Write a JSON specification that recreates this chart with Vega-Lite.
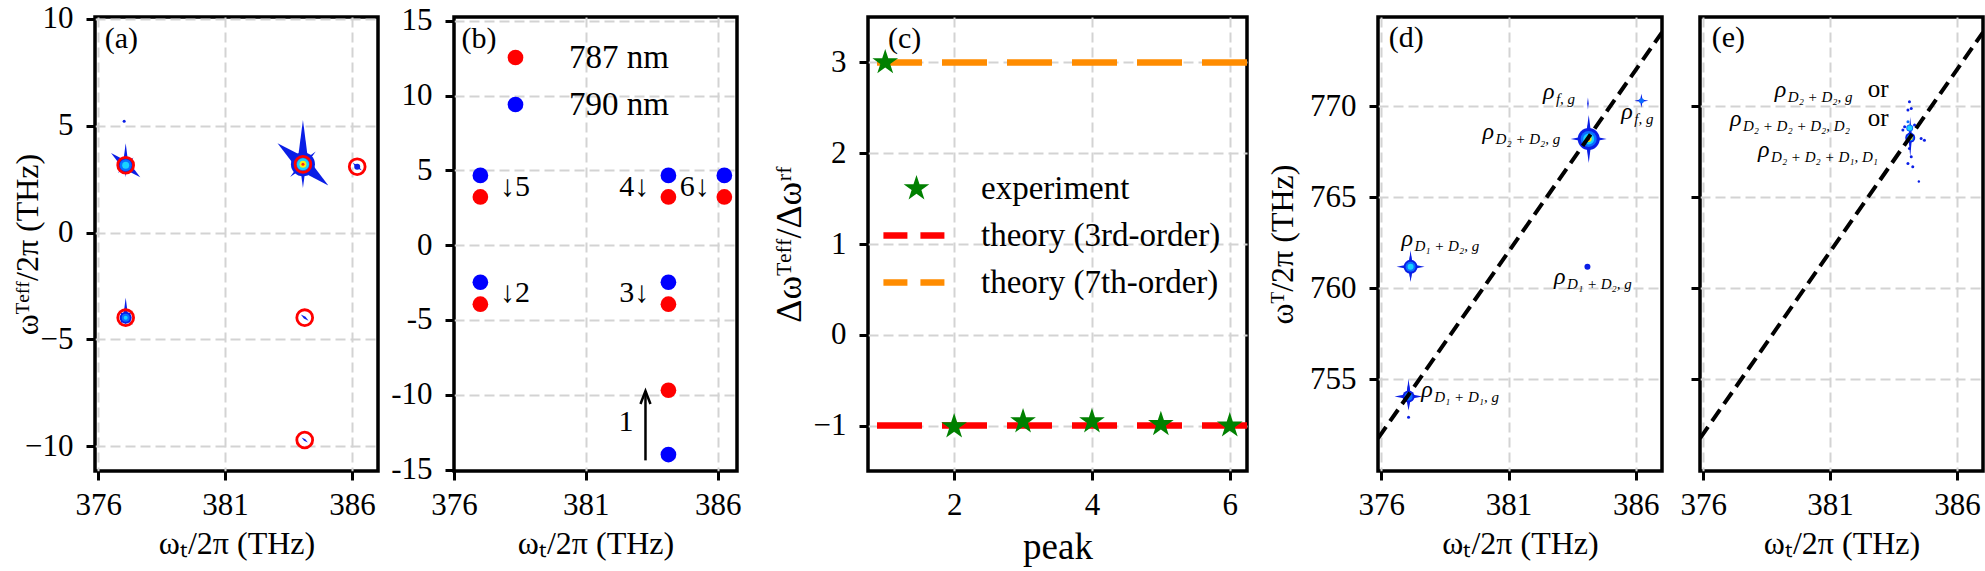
{
  "$schema": "https://vega.github.io/schema/vega-lite/v6.json",
  "background": "white",
  "padding": {"left": 9, "top": 0, "right": 0, "bottom": 0},
  "spacing": 0,
  "bounds": "flush",
  "resolve": {
    "scale": {"x": "independent", "y": "independent", "color": "independent", "shape": "independent", "size": "independent"},
    "legend": {"color": "independent", "shape": "independent", "size": "independent"}
  },
  "datasets": {
    "spotsA": [
      {"wt": 377.08, "weff": 3.15, "level": 1, "form": "slash", "spread": 19},
      {"wt": 377.08, "weff": 3.38, "level": 1, "form": "streak", "spread": 17},
      {"wt": 377.08, "weff": 3.15, "level": 1, "form": "cross", "spread": 11},
      {"wt": 377.08, "weff": 3.15, "level": 1, "form": "blob", "spread": 8},
      {"wt": 377.08, "weff": 3.15, "level": 2, "form": "blob", "spread": 6},
      {"wt": 377.08, "weff": 3.15, "level": 3, "form": "blob", "spread": 3.5},
      {"wt": 377.02, "weff": 5.2, "level": 1, "form": "blob", "spread": 1.5},
      {"wt": 384.07, "weff": 3.19, "level": 1, "form": "slash", "spread": 33},
      {"wt": 384.07, "weff": 3.67, "level": 1, "form": "streak", "spread": 34},
      {"wt": 384.07, "weff": 3.19, "level": 1, "form": "cross", "spread": 18},
      {"wt": 384.07, "weff": 3.19, "level": 1, "form": "blob", "spread": 12},
      {"wt": 384.07, "weff": 3.19, "level": 2, "form": "blob", "spread": 8},
      {"wt": 384.07, "weff": 3.19, "level": 3, "form": "blob", "spread": 6},
      {"wt": 384.07, "weff": 3.19, "level": 4, "form": "blob", "spread": 3.5},
      {"wt": 384.07, "weff": 3.19, "level": 5, "form": "blob", "spread": 1.5},
      {"wt": 386.21, "weff": 3.08, "level": 1, "form": "slash", "spread": 6},
      {"wt": 386.21, "weff": 3.08, "level": 1, "form": "blob", "spread": 3},
      {"wt": 377.08, "weff": -3.7, "level": 1, "form": "streak", "spread": 14},
      {"wt": 377.08, "weff": -3.98, "level": 1, "form": "cross", "spread": 10},
      {"wt": 377.08, "weff": -3.98, "level": 1, "form": "blob", "spread": 6},
      {"wt": 377.08, "weff": -3.98, "level": 2, "form": "blob", "spread": 4},
      {"wt": 377.08, "weff": -3.98, "level": 3, "form": "blob", "spread": 2},
      {"wt": 384.14, "weff": -3.98, "level": 1, "form": "slash", "spread": 5},
      {"wt": 384.14, "weff": -9.7, "level": 1, "form": "slash", "spread": 4}
    ],
    "circlesA": [
      {"wt": 377.08, "weff": 3.15},
      {"wt": 384.07, "weff": 3.19},
      {"wt": 386.21, "weff": 3.08},
      {"wt": 377.08, "weff": -3.98},
      {"wt": 384.14, "weff": -3.98},
      {"wt": 384.14, "weff": -9.7}
    ],
    "dotsB": [
      {"wt": 377.0, "weff": 3.22, "wavelength": "787 nm"},
      {"wt": 377.0, "weff": -3.95, "wavelength": "787 nm"},
      {"wt": 384.13, "weff": 3.22, "wavelength": "787 nm"},
      {"wt": 384.13, "weff": -3.95, "wavelength": "787 nm"},
      {"wt": 384.13, "weff": -9.7, "wavelength": "787 nm"},
      {"wt": 386.25, "weff": 3.22, "wavelength": "787 nm"},
      {"wt": 377.0, "weff": 4.66, "wavelength": "790 nm"},
      {"wt": 377.0, "weff": -2.48, "wavelength": "790 nm"},
      {"wt": 384.13, "weff": 4.66, "wavelength": "790 nm"},
      {"wt": 384.13, "weff": -2.48, "wavelength": "790 nm"},
      {"wt": 384.13, "weff": -14.0, "wavelength": "790 nm"},
      {"wt": 386.25, "weff": 4.66, "wavelength": "790 nm"}
    ],
    "notesB": [
      {"wt": 378.31, "weff": 3.9, "note": "↓5"},
      {"wt": 378.31, "weff": -3.23, "note": "↓2"},
      {"wt": 382.83, "weff": 3.9, "note": "4↓"},
      {"wt": 385.13, "weff": 3.9, "note": "6↓"},
      {"wt": 382.83, "weff": -3.23, "note": "3↓"},
      {"wt": 382.52, "weff": -11.83, "note": "1"}
    ],
    "arrowB": [
      {"wt": 383.26, "start": -14.39, "tip": -9.75}
    ],
    "theoryC": [
      {"series": "theory (3rd-order)", "ratio": -1},
      {"series": "theory (7th-order)", "ratio": 3}
    ],
    "ratioC": [
      {"peak": 1, "ratio": 3.0, "series": "experiment"},
      {"peak": 2, "ratio": -1.01, "series": "experiment"},
      {"peak": 3, "ratio": -0.955, "series": "experiment"},
      {"peak": 4, "ratio": -0.955, "series": "experiment"},
      {"peak": 5, "ratio": -0.985, "series": "experiment"},
      {"peak": 6, "ratio": -1.0, "series": "experiment"}
    ],
    "spotsD": [
      {"wt": 377.07, "wT": 754.05, "level": 1, "form": "plus", "spread": 14},
      {"wt": 377.07, "wT": 754.2, "level": 1, "form": "streak", "spread": 15},
      {"wt": 377.07, "wT": 754.05, "level": 1, "form": "blob", "spread": 6},
      {"wt": 377.07, "wT": 754.05, "level": 2, "form": "blob", "spread": 4},
      {"wt": 377.07, "wT": 752.9, "level": 1, "form": "blob", "spread": 1.5},
      {"wt": 377.15, "wT": 761.17, "level": 1, "form": "plus", "spread": 14},
      {"wt": 377.15, "wT": 761.2, "level": 1, "form": "streak", "spread": 16},
      {"wt": 377.15, "wT": 761.17, "level": 1, "form": "blob", "spread": 7},
      {"wt": 377.15, "wT": 761.17, "level": 2, "form": "blob", "spread": 5},
      {"wt": 377.15, "wT": 761.17, "level": 3, "form": "blob", "spread": 3},
      {"wt": 384.15, "wT": 768.2, "level": 1, "form": "plus", "spread": 18},
      {"wt": 384.15, "wT": 768.2, "level": 1, "form": "streak", "spread": 24},
      {"wt": 384.15, "wT": 768.2, "level": 1, "form": "blob", "spread": 11},
      {"wt": 384.15, "wT": 768.2, "level": 2, "form": "blob", "spread": 8},
      {"wt": 384.15, "wT": 768.2, "level": 3, "form": "blob", "spread": 5.5},
      {"wt": 384.15, "wT": 768.2, "level": 4, "form": "blob", "spread": 3},
      {"wt": 384.15, "wT": 768.2, "level": 5, "form": "blob", "spread": 1.5},
      {"wt": 384.12, "wT": 770.15, "level": 1, "form": "streak", "spread": 6},
      {"wt": 386.22, "wT": 770.3, "level": 1, "form": "plus", "spread": 7},
      {"wt": 386.22, "wT": 770.3, "level": 2, "form": "blob", "spread": 2.5},
      {"wt": 384.1, "wT": 761.17, "level": 1, "form": "blob", "spread": 3}
    ],
    "labelsD": [
      {"wt": 382.35, "wT": 770.41, "sub": "f, g"},
      {"wt": 379.98, "wT": 768.2, "sub": "D₂ + D₂, g"},
      {"wt": 376.79, "wT": 762.3, "sub": "D₁ + D₂, g"},
      {"wt": 382.79, "wT": 760.2, "sub": "D₁ + D₂, g"},
      {"wt": 377.57, "wT": 754.04, "sub": "D₁ + D₁, g"},
      {"wt": 385.43, "wT": 769.31, "sub": "f, g"}
    ],
    "diagonal": [
      {"wt": 375.87, "wT": 751.74},
      {"wt": 387.03, "wT": 774.06}
    ],
    "spotsE": [
      {"wt": 384.16, "wT": 768.3, "level": 1, "form": "streak", "spread": 20},
      {"wt": 384.16, "wT": 768.26, "level": 1, "form": "blob", "spread": 5},
      {"wt": 384.14, "wT": 768.8, "level": 2, "form": "blob", "spread": 3.5},
      {"wt": 384.16, "wT": 768.26, "level": 2, "form": "blob", "spread": 3.5},
      {"wt": 384.14, "wT": 768.8, "level": 3, "form": "blob", "spread": 2.5},
      {"wt": 384.16, "wT": 768.26, "level": 4, "form": "blob", "spread": 2.5},
      {"wt": 384.16, "wT": 768.26, "level": 5, "form": "blob", "spread": 1.2},
      {"wt": 384.13, "wT": 770.24, "level": 1, "form": "blob", "spread": 1.5},
      {"wt": 384.2, "wT": 769.87, "level": 1, "form": "blob", "spread": 1.5},
      {"wt": 384.07, "wT": 769.79, "level": 1, "form": "blob", "spread": 1.5},
      {"wt": 383.94, "wT": 768.87, "level": 1, "form": "blob", "spread": 1.5},
      {"wt": 383.87, "wT": 768.69, "level": 1, "form": "blob", "spread": 1.5},
      {"wt": 384.07, "wT": 769.14, "level": 2, "form": "blob", "spread": 1.5},
      {"wt": 384.33, "wT": 768.96, "level": 1, "form": "blob", "spread": 1.5},
      {"wt": 384.59, "wT": 768.22, "level": 1, "form": "blob", "spread": 1.5},
      {"wt": 384.72, "wT": 768.13, "level": 1, "form": "blob", "spread": 1.5},
      {"wt": 384.13, "wT": 767.67, "level": 1, "form": "blob", "spread": 1.5},
      {"wt": 384.2, "wT": 767.22, "level": 1, "form": "blob", "spread": 1.5},
      {"wt": 384.07, "wT": 766.85, "level": 1, "form": "blob", "spread": 1.5},
      {"wt": 384.26, "wT": 766.67, "level": 1, "form": "blob", "spread": 1.5},
      {"wt": 384.5, "wT": 765.86, "level": 1, "form": "blob", "spread": 1.2}
    ],
    "labelsE": [
      {"wt": 378.82, "wT": 770.51, "sub": "D₂ + D₂, g"},
      {"wt": 377.05, "wT": 768.91, "sub": "D₂ + D₂ + D₂, D₂"},
      {"wt": 378.16, "wT": 767.2, "sub": "D₂ + D₂ + D₁, D₁"}
    ],
    "orE": [
      {"wt": 382.49, "wT": 770.51},
      {"wt": 382.49, "wT": 768.91}
    ]
  },
  "hconcat": [
    {
      "width": 283,
      "height": 454,
      "layer": [
        {
          "data": {"name": "spotsA"},
          "mark": {"type": "point", "filled": true, "opacity": 1, "strokeWidth": 0, "clip": true},
          "encoding": {
            "x": {"field": "wt", "type": "quantitative",
              "scale": {"domain": [375.87, 387.03], "nice": false, "zero": false},
              "axis": {"values": [376, 381, 386], "format": "d", "title": "ωₜ/2π (THz)", "titleY": 57, "titleBaseline": "top"}},
            "y": {"field": "weff", "type": "quantitative",
              "scale": {"domain": [-11.15, 10.08], "nice": false, "zero": false},
              "axis": {"values": [-10, -5, 0, 5, 10], "format": "d", "title": "ωᵀᵉᶠᶠ/2π (THz)", "titleX": -68, "titleY": 227, "titleAngle": 270, "titleBaseline": "middle", "titleAlign": "center"}},
            "color": {"field": "level", "type": "ordinal",
              "scale": {"domain": [1, 2, 3, 4, 5], "range": ["#0a1ee6", "#0a6eff", "#19d2ff", "#f5f014", "#ff2814"]}, "legend": null},
            "shape": {"field": "form", "type": "nominal",
              "scale": {"domain": ["plus", "cross", "slash", "streak", "blob"],
                "range": ["M0,-1L0.16,-0.16L1,0L0.16,0.16L0,1L-0.16,0.16L-1,0L-0.16,-0.16Z",
                  "M-0.71,-0.71L0,-0.2L0.71,-0.71L0.2,0L0.71,0.71L0,0.2L-0.71,0.71L-0.2,0Z",
                  "M-0.77,-0.64L0.16,-0.16L0.77,0.64L-0.16,0.16Z",
                  "M0,-1L0.13,0L0,1L-0.13,0Z",
                  "circle"]}, "legend": null},
            "size": {"field": "spread", "type": "quantitative",
              "scale": {"type": "pow", "exponent": 2, "domain": [0, 50], "range": [0, 10000]}, "legend": null},
            "order": {"field": "level", "type": "quantitative"}
          }
        },
        {
          "data": {"name": "circlesA"},
          "mark": {"type": "point", "filled": false, "color": "#ff0000", "strokeWidth": 2.8, "size": 250, "opacity": 1},
          "encoding": {
            "x": {"field": "wt", "type": "quantitative"},
            "y": {"field": "weff", "type": "quantitative"}
          }
        },
        {
          "data": {"values": [{"wt": 376.25, "weff": 8.65, "panel": "(a)"}]},
          "mark": {"type": "text", "fontSize": 30, "align": "left", "baseline": "alphabetic", "color": "black"},
          "encoding": {
            "x": {"field": "wt", "type": "quantitative"},
            "y": {"field": "weff", "type": "quantitative"},
            "text": {"field": "panel"}
          }
        }
      ]
    },
    {"width": 76, "height": 454, "view": {"stroke": null}, "data": {"values": [{}]}, "mark": {"type": "point", "opacity": 0}},
    {
      "width": 283,
      "height": 454,
      "layer": [
        {
          "data": {"name": "dotsB"},
          "mark": {"type": "point", "filled": true, "opacity": 1, "size": 246, "shape": "circle", "strokeWidth": 0},
          "encoding": {
            "x": {"field": "wt", "type": "quantitative",
              "scale": {"domain": [376.0, 386.73], "nice": false, "zero": false},
              "axis": {"values": [376, 381, 386], "format": "d", "title": "ωₜ/2π (THz)", "titleY": 57, "titleBaseline": "top",
                "gridOpacity": {"condition": {"test": "datum.value === 376", "value": 0}, "value": 1}}},
            "y": {"field": "weff", "type": "quantitative",
              "scale": {"domain": [-15.1, 15.25], "nice": false, "zero": false},
              "axis": {"values": [-15, -10, -5, 0, 5, 10, 15], "format": "d", "title": null, "labelExpr": "replace(datum.label, '−', '-')",
                "gridOpacity": {"condition": {"test": "datum.value === -15", "value": 0}, "value": 1}}},
            "color": {"field": "wavelength", "type": "nominal",
              "scale": {"domain": ["787 nm", "790 nm"], "range": ["#ff0000", "#0000ff"]},
              "legend": {"orient": "none", "legendX": 45, "legendY": 24, "title": null, "padding": 0,
                "labelFont": "Liberation Serif, Times New Roman, serif", "labelFontSize": 33, "labelColor": "black", "labelOffset": 37,
                "rowPadding": 13, "symbolSize": 246, "symbolType": "circle", "symbolStrokeWidth": 0, "symbolOpacity": 1}}
          }
        },
        {
          "data": {"name": "notesB"},
          "mark": {"type": "text", "fontSize": 30, "align": "center", "baseline": "middle", "color": "black"},
          "encoding": {
            "x": {"field": "wt", "type": "quantitative"},
            "y": {"field": "weff", "type": "quantitative"},
            "text": {"field": "note"}
          }
        },
        {
          "data": {"name": "arrowB"},
          "mark": {"type": "rule", "strokeWidth": 2.5, "color": "black"},
          "encoding": {
            "x": {"field": "wt", "type": "quantitative"},
            "y": {"field": "start", "type": "quantitative"},
            "y2": {"field": "tip"}
          }
        },
        {
          "data": {"name": "arrowB"},
          "mark": {"type": "point", "shape": "M-0.5,1.3L0,0L0.5,1.3", "filled": false, "size": 400, "strokeWidth": 2.5, "color": "black", "opacity": 1},
          "encoding": {
            "x": {"field": "wt", "type": "quantitative"},
            "y": {"field": "tip", "type": "quantitative"}
          }
        },
        {
          "data": {"values": [{"wt": 376.28, "weff": 13.17, "panel": "(b)"}]},
          "mark": {"type": "text", "fontSize": 30, "align": "left", "baseline": "alphabetic", "color": "black"},
          "encoding": {
            "x": {"field": "wt", "type": "quantitative"},
            "y": {"field": "weff", "type": "quantitative"},
            "text": {"field": "panel"}
          }
        }
      ]
    },
    {"width": 131, "height": 454, "view": {"stroke": null}, "data": {"values": [{}]}, "mark": {"type": "point", "opacity": 0}},
    {
      "width": 379,
      "height": 454,
      "layer": [
        {
          "data": {"name": "theoryC"},
          "mark": {"type": "rule", "strokeWidth": 6.5, "strokeDash": [45, 20]},
          "encoding": {
            "y": {"field": "ratio", "type": "quantitative",
              "scale": {"domain": [-1.5, 3.5], "nice": false, "zero": false},
              "axis": {"values": [-1, 0, 1, 2, 3], "format": "d", "title": "Δωᵀᵉᶠᶠ/Δωʳᶠ", "titleFontSize": 36, "titleX": -79, "titleY": 227, "titleAngle": 270, "titleBaseline": "middle", "titleAlign": "center"}},
            "color": {"field": "series", "type": "nominal",
              "scale": {"domain": ["experiment", "theory (3rd-order)", "theory (7th-order)"], "range": ["#008000", "#ff0000", "#ff8c00"]},
              "legend": {"orient": "none", "legendX": 32, "legendY": 155, "title": null, "padding": 0,
                "labelFont": "Liberation Serif, Times New Roman, serif", "labelFontSize": 33, "labelColor": "black", "labelLimit": 600,
                "labelOffset": 48, "rowPadding": 13, "symbolSize": 729,
                "encode": {"symbols": {"update": {
                  "shape": {"signal": "datum.value === 'experiment' ? 'M0,-1L0.2245,-0.309L0.951,-0.309L0.3633,0.118L0.5878,0.809L0,0.382L-0.5878,0.809L-0.3633,0.118L-0.951,-0.309L-0.2245,-0.309Z' : 'M-2.45,0L2.45,0'"},
                  "fill": {"signal": "datum.value === 'experiment' ? '#008000' : 'transparent'"},
                  "stroke": {"signal": "datum.value === 'theory (3rd-order)' ? '#ff0000' : datum.value === 'theory (7th-order)' ? '#ff8c00' : 'transparent'"},
                  "strokeWidth": {"signal": "datum.value === 'experiment' ? 0 : 6.5"},
                  "strokeDash": {"signal": "datum.value === 'experiment' ? [1, 0] : [24, 13]"},
                  "size": {"value": 729},
                  "opacity": {"value": 1},
                  "fillOpacity": {"value": 1},
                  "strokeOpacity": {"value": 1}
                }}}}}
          }
        },
        {
          "data": {"name": "ratioC"},
          "mark": {"type": "point", "filled": true, "opacity": 1, "size": 729, "strokeWidth": 0,
            "shape": "M0,-1L0.2245,-0.309L0.951,-0.309L0.3633,0.118L0.5878,0.809L0,0.382L-0.5878,0.809L-0.3633,0.118L-0.951,-0.309L-0.2245,-0.309Z"},
          "encoding": {
            "x": {"field": "peak", "type": "quantitative",
              "scale": {"domain": [0.75, 6.25], "nice": false, "zero": false},
              "axis": {"values": [2, 4, 6], "format": "d", "title": "peak", "titleFontSize": 37, "titleY": 58, "titleBaseline": "top"}},
            "y": {"field": "ratio", "type": "quantitative"},
            "color": {"field": "series", "type": "nominal"}
          }
        },
        {
          "data": {"values": [{"peak": 1.04, "ratio": 3.16, "panel": "(c)"}]},
          "mark": {"type": "text", "fontSize": 30, "align": "left", "baseline": "alphabetic", "color": "black"},
          "encoding": {
            "x": {"field": "peak", "type": "quantitative"},
            "y": {"field": "ratio", "type": "quantitative"},
            "text": {"field": "panel"}
          }
        }
      ]
    },
    {"width": 131, "height": 454, "view": {"stroke": null}, "data": {"values": [{}]}, "mark": {"type": "point", "opacity": 0}},
    {
      "width": 284,
      "height": 454,
      "layer": [
        {
          "data": {"name": "spotsD"},
          "mark": {"type": "point", "filled": true, "opacity": 1, "strokeWidth": 0, "clip": true},
          "encoding": {
            "x": {"field": "wt", "type": "quantitative",
              "scale": {"domain": [375.87, 387.03], "nice": false, "zero": false},
              "axis": {"values": [376, 381, 386], "format": "d", "title": "ωₜ/2π (THz)", "titleY": 57, "titleBaseline": "top"}},
            "y": {"field": "wT", "type": "quantitative",
              "scale": {"domain": [749.95, 774.9], "nice": false, "zero": false},
              "axis": {"values": [755, 760, 765, 770], "format": "d", "title": "ωᵀ/2π (THz)", "titleX": -96, "titleY": 227, "titleAngle": 270, "titleBaseline": "middle", "titleAlign": "center"}},
            "color": {"field": "level", "type": "ordinal",
              "scale": {"domain": [1, 2, 3, 4, 5], "range": ["#0a1ee6", "#0a6eff", "#19d2ff", "#f5f014", "#ff2814"]}, "legend": null},
            "shape": {"field": "form", "type": "nominal",
              "scale": {"domain": ["plus", "cross", "slash", "streak", "blob"],
                "range": ["M0,-1L0.16,-0.16L1,0L0.16,0.16L0,1L-0.16,0.16L-1,0L-0.16,-0.16Z",
                  "M-0.71,-0.71L0,-0.2L0.71,-0.71L0.2,0L0.71,0.71L0,0.2L-0.71,0.71L-0.2,0Z",
                  "M-0.77,-0.64L0.12,-0.12L0.77,0.64L-0.12,0.12Z",
                  "M0,-1L0.13,0L0,1L-0.13,0Z",
                  "circle"]}, "legend": null},
            "size": {"field": "spread", "type": "quantitative",
              "scale": {"type": "pow", "exponent": 2, "domain": [0, 50], "range": [0, 10000]}, "legend": null},
            "order": {"field": "level", "type": "quantitative"}
          }
        },
        {
          "data": {"name": "diagonal"},
          "mark": {"type": "line", "color": "black", "strokeWidth": 4, "strokeDash": [14, 7], "clip": true},
          "encoding": {
            "x": {"field": "wt", "type": "quantitative"},
            "y": {"field": "wT", "type": "quantitative"}
          }
        },
        {
          "data": {"name": "labelsD"},
          "mark": {"type": "text", "text": "ρ", "fontStyle": "italic", "fontSize": 24, "align": "left", "baseline": "alphabetic", "color": "black"},
          "encoding": {
            "x": {"field": "wt", "type": "quantitative"},
            "y": {"field": "wT", "type": "quantitative"}
          }
        },
        {
          "data": {"name": "labelsD"},
          "mark": {"type": "text", "fontStyle": "italic", "fontSize": 15, "align": "left", "baseline": "alphabetic", "dx": 13, "dy": 5, "color": "black"},
          "encoding": {
            "x": {"field": "wt", "type": "quantitative"},
            "y": {"field": "wT", "type": "quantitative"},
            "text": {"field": "sub"}
          }
        },
        {
          "data": {"values": [{"wt": 376.29, "wT": 773.27, "panel": "(d)"}]},
          "mark": {"type": "text", "fontSize": 30, "align": "left", "baseline": "alphabetic", "color": "black"},
          "encoding": {
            "x": {"field": "wt", "type": "quantitative"},
            "y": {"field": "wT", "type": "quantitative"},
            "text": {"field": "panel"}
          }
        }
      ]
    },
    {"width": 38, "height": 454, "view": {"stroke": null}, "data": {"values": [{}]}, "mark": {"type": "point", "opacity": 0}},
    {
      "width": 283,
      "height": 454,
      "layer": [
        {
          "data": {"name": "spotsE"},
          "mark": {"type": "point", "filled": true, "opacity": 1, "strokeWidth": 0, "clip": true},
          "encoding": {
            "x": {"field": "wt", "type": "quantitative",
              "scale": {"domain": [375.87, 387.03], "nice": false, "zero": false},
              "axis": {"values": [376, 381, 386], "format": "d", "title": "ωₜ/2π (THz)", "titleY": 57, "titleBaseline": "top"}},
            "y": {"field": "wT", "type": "quantitative",
              "scale": {"domain": [749.95, 774.9], "nice": false, "zero": false},
              "axis": {"values": [755, 760, 765, 770], "labels": false, "title": null}},
            "color": {"field": "level", "type": "ordinal",
              "scale": {"domain": [1, 2, 3, 4, 5], "range": ["#0a1ee6", "#0a6eff", "#19d2ff", "#f5f014", "#ff2814"]}, "legend": null},
            "shape": {"field": "form", "type": "nominal",
              "scale": {"domain": ["plus", "cross", "slash", "streak", "blob"],
                "range": ["M0,-1L0.16,-0.16L1,0L0.16,0.16L0,1L-0.16,0.16L-1,0L-0.16,-0.16Z",
                  "M-0.71,-0.71L0,-0.2L0.71,-0.71L0.2,0L0.71,0.71L0,0.2L-0.71,0.71L-0.2,0Z",
                  "M-0.77,-0.64L0.12,-0.12L0.77,0.64L-0.12,0.12Z",
                  "M0,-1L0.09,0L0,1L-0.09,0Z",
                  "circle"]}, "legend": null},
            "size": {"field": "spread", "type": "quantitative",
              "scale": {"type": "pow", "exponent": 2, "domain": [0, 50], "range": [0, 10000]}, "legend": null},
            "order": {"field": "level", "type": "quantitative"}
          }
        },
        {
          "data": {"name": "diagonal"},
          "mark": {"type": "line", "color": "black", "strokeWidth": 4, "strokeDash": [14, 7], "clip": true},
          "encoding": {
            "x": {"field": "wt", "type": "quantitative"},
            "y": {"field": "wT", "type": "quantitative"}
          }
        },
        {
          "data": {"name": "labelsE"},
          "mark": {"type": "text", "text": "ρ", "fontStyle": "italic", "fontSize": 24, "align": "left", "baseline": "alphabetic", "color": "black"},
          "encoding": {
            "x": {"field": "wt", "type": "quantitative"},
            "y": {"field": "wT", "type": "quantitative"}
          }
        },
        {
          "data": {"name": "labelsE"},
          "mark": {"type": "text", "fontStyle": "italic", "fontSize": 15, "align": "left", "baseline": "alphabetic", "dx": 13, "dy": 5, "color": "black"},
          "encoding": {
            "x": {"field": "wt", "type": "quantitative"},
            "y": {"field": "wT", "type": "quantitative"},
            "text": {"field": "sub"}
          }
        },
        {
          "data": {"name": "orE"},
          "mark": {"type": "text", "text": "or", "fontSize": 25, "align": "left", "baseline": "alphabetic", "color": "black"},
          "encoding": {
            "x": {"field": "wt", "type": "quantitative"},
            "y": {"field": "wT", "type": "quantitative"}
          }
        },
        {
          "data": {"values": [{"wt": 376.33, "wT": 773.27, "panel": "(e)"}]},
          "mark": {"type": "text", "fontSize": 30, "align": "left", "baseline": "alphabetic", "color": "black"},
          "encoding": {
            "x": {"field": "wt", "type": "quantitative"},
            "y": {"field": "wT", "type": "quantitative"},
            "text": {"field": "panel"}
          }
        }
      ]
    }
  ],
  "config": {
    "font": "Liberation Serif, Times New Roman, serif",
    "text": {"font": "Liberation Serif, Times New Roman, serif"},
    "view": {"stroke": "black", "strokeWidth": 3.5},
    "axis": {
      "domain": false, "grid": true, "gridColor": "#d3d3d3", "gridDash": [10, 5], "gridWidth": 2,
      "ticks": true, "tickColor": "black", "tickWidth": 3, "tickSize": 9,
      "labelFont": "Liberation Serif, Times New Roman, serif", "labelFontSize": 31, "labelColor": "black",
      "labelFlush": false, "labelOverlap": false, "labelBound": false,
      "titleFont": "Liberation Serif, Times New Roman, serif", "titleFontSize": 32, "titleFontWeight": "normal", "titleColor": "black"
    },
    "axisX": {"labelPadding": 10},
    "axisY": {"labelPadding": 13}
  }
}
